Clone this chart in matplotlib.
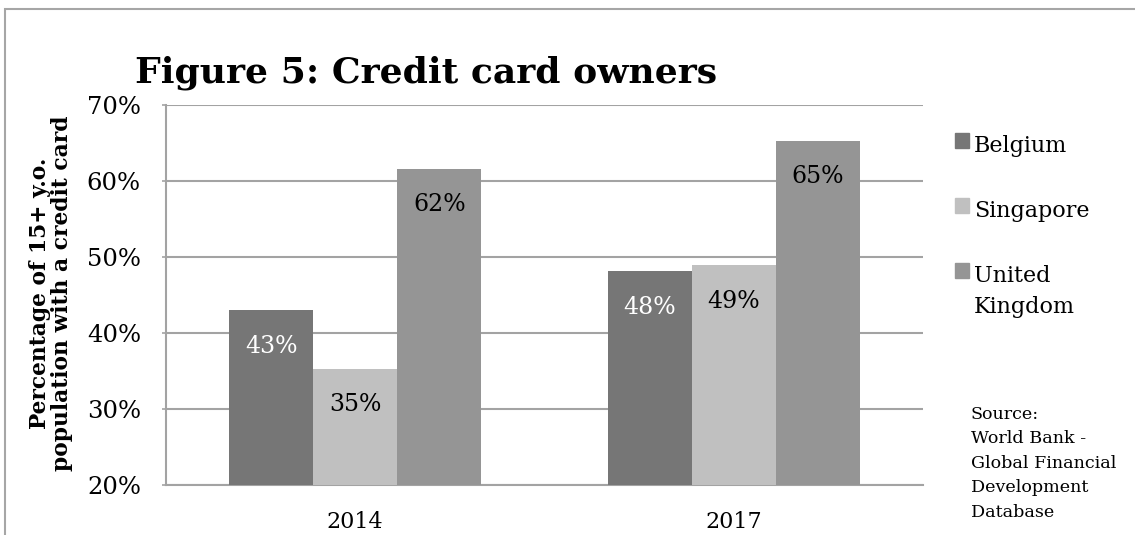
import numpy as np
import matplotlib
matplotlib.use("Agg")
import matplotlib.pyplot as plt
from matplotlib.patches import Rectangle

# Share of 15+ year olds holding a credit card
years = ['2014', '2017']
countries = ['Belgium', 'Singapore', 'United\nKingdom']
belgium = [0.430, 0.481]
singapore = [0.353, 0.489]
united_kingdom = [0.616, 0.653]
series = [belgium, singapore, united_kingdom]

colors = ['#767676', '#c0c0c0', '#959595']
label_colors = ['white', 'black', 'black']
grid_color = '#a3a3a3'

plt.rcParams['font.family'] = 'DejaVu Serif'

fig = plt.figure(figsize=(11.35, 5.35), dpi=100)
ax = fig.add_axes([166 / 1135, 1 - 485 / 535, (923 - 166) / 1135, (485 - 105) / 535])

x = np.arange(len(years))
width = 0.222
for i, (vals, col, lc) in enumerate(zip(series, colors, label_colors)):
    bars = ax.bar(x + (i - 1) * width, vals, width, color=col, zorder=3)
    for b, v in zip(bars, vals):
        ax.annotate(f'{v:.0%}', (b.get_x() + b.get_width() / 2, v),
                    xytext=(0, -26), textcoords='offset points',
                    ha='center', va='center', color=lc, fontsize=17, zorder=4)

ax.set_xlim(-0.5, 1.5)
ax.set_ylim(0.2, 0.7)
ax.set_yticks([0.2, 0.3, 0.4, 0.5, 0.6, 0.7])
ax.set_yticklabels([f'{t}%' for t in range(20, 80, 10)])
ax.set_xticks(x)
ax.set_xticklabels(years)
ax.tick_params(axis='y', length=3, width=1.2, color=grid_color, pad=15, labelsize=17.5)
ax.tick_params(axis='x', length=0, pad=19, labelsize=16)

ax.grid(axis='y', color=grid_color, linewidth=1.5, zorder=0)
for side in ['top', 'right']:
    ax.spines[side].set_visible(False)
for side in ['left', 'bottom']:
    ax.spines[side].set_color(grid_color)
    ax.spines[side].set_linewidth(1.5)

fig.text(51 / 1135, 1 - 293 / 535,
         'Percentage of 15+ y.o.\npopulation with a credit card',
         rotation=90, ha='center', va='center', fontsize=15.7,
         fontweight='bold', linespacing=1.05)

fig.text(135 / 1135, 1 - 83 / 535, 'Figure 5: Credit card owners',
         ha='left', va='baseline', fontsize=26, fontweight='bold')

# legend drawn by hand on the right; squares sit on the first line,
# the text is placed by the baseline of its last line
line_gap = 31
first_base = [152, 217, 282]
for lab, col, yb in zip(countries, colors, first_base):
    fig.patches.append(Rectangle((955 / 1135, 1 - (yb - 4) / 535), 14 / 1135, 15 / 535,
                                 transform=fig.transFigure, color=col))
    last_base = yb + line_gap * lab.count('\n')
    fig.text(974 / 1135, 1 - last_base / 535, lab, ha='left', va='baseline',
             fontsize=16, linespacing=1.54)

fig.text(971 / 1135, 1 - 517 / 535,
         'Source:\nWorld Bank -\nGlobal Financial\nDevelopment\nDatabase',
         ha='left', va='baseline', fontsize=12.6, linespacing=1.58)

# outer frame
fig.patches.append(Rectangle((5 / 1135, -0.1), 1.2, 1 - 9 / 535 + 0.1,
                             transform=fig.transFigure, fill=False,
                             edgecolor='#a6a6a6', linewidth=1.5))

fig.savefig('out.png', dpi=100)
